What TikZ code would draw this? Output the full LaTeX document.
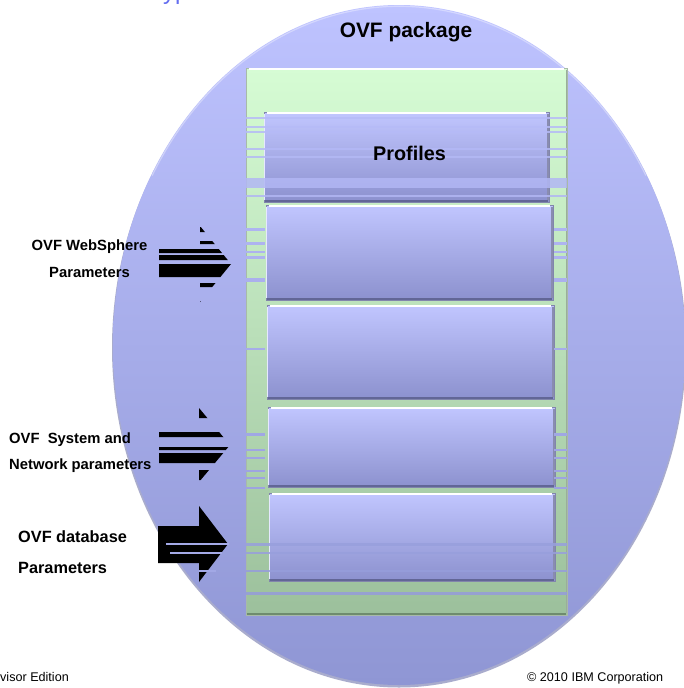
\documentclass[tikz,border=0pt]{standalone}
\usepackage{fontspec}
\setmainfont{Liberation Sans}
\usetikzlibrary{shapes.geometric}
\definecolor{ellTop}{RGB}{190,195,255}
\definecolor{ellBot}{RGB}{143,150,212}
\definecolor{ellEdge}{RGB}{100,105,165}
\definecolor{grnTop}{RGB}{214,252,212}
\definecolor{grnBot}{RGB}{156,192,156}
\definecolor{grnEdge}{RGB}{110,140,110}
\definecolor{boxTop}{RGB}{193,198,255}
\definecolor{boxBot}{RGB}{140,145,206}
\definecolor{boxEdge}{RGB}{98,102,150}
\definecolor{titleBlue}{RGB}{100,110,240}
\begin{document}
\begin{tikzpicture}[x=1pt,y=1pt,
  pkgshape/.style={ellipse, inner sep=0pt, minimum width=572pt, minimum height=680pt,
    top color=ellTop, bottom color=ellBot},
  grnshape/.style={rectangle, inner sep=0pt, top color=grnTop, bottom color=grnBot,
    draw=grnEdge!60, line width=0.6pt},
  boxshape/.style={rectangle, inner sep=0pt, top color=boxTop, bottom color=boxBot,
    draw=boxEdge!80, line width=0.6pt},
  biglabel/.style={font=\fontsize{20.9}{24}\selectfont\bfseries, inner sep=0pt},
  sidelabel/.style={font=\fontsize{14.8}{17}\selectfont\bfseries, inner sep=0pt},
  dblabel/.style={font=\fontsize{16.3}{19}\selectfont\bfseries, inner sep=0pt},
  footlabel/.style={font=\fontsize{12.6}{15}\selectfont, inner sep=0pt},
  blockarrow/.style={fill=black},
]
\useasboundingbox (0,0) rectangle (683,-688);
\fill[white] (0,0) rectangle (683,-688);

% partial title (descenders only)
\begin{scope}
  \clip (0,0) rectangle (683,-688);
  \node[anchor=base west, inner sep=0pt, text=titleBlue,
        font=\fontsize{24}{28}\selectfont] (title) at (163,1) {yp};
\end{scope}

% package ellipse with soft shadow
\fill[ellEdge, opacity=0.55] (399,-347.5) ellipse [x radius=287, y radius=340];
\node[pkgshape] (pkg) at (399,-345) {};
\draw[white, opacity=0.35, line width=1.2pt]
  ([shift={(0,-1.5)}]pkg.north) arc[start angle=90, end angle=150, x radius=285, y radius=338.5];
\draw[white, opacity=0.35, line width=1.2pt]
  ([shift={(0,-1.5)}]pkg.north) arc[start angle=90, end angle=30, x radius=285, y radius=338.5];
\node[biglabel, anchor=base] (pkgtitle) at (406,-37) {OVF package};

% green container
\node[grnshape, minimum width=321pt, minimum height=547pt] (grn) at (406.5,-341.5) {};
\draw[white, line width=2pt] ([shift={(3,-1.5)}]grn.north west) -- ([shift={(-3,-1.5)}]grn.north east);
\draw[grnEdge, line width=2pt] ([shift={(1,1.2)}]grn.south west) -- ([shift={(-1,1.2)}]grn.south east);
\draw[grnEdge!70, line width=1.4pt] ([shift={(-0.8,-2)}]grn.north east) -- ([shift={(-0.8,2)}]grn.south east);

% inner boxes
\node[boxshape, minimum width=285pt, minimum height=90pt] (b1) at (406.5,-157) {};
\node[boxshape, minimum width=287pt, minimum height=95pt] (b2) at (409.5,-252.5) {};
\node[boxshape, minimum width=287pt, minimum height=94pt] (b3) at (410.5,-352) {};
\node[boxshape, minimum width=287pt, minimum height=80pt] (b4) at (411.5,-447) {};
\node[boxshape, minimum width=286pt, minimum height=88pt] (b5) at (412,-537) {};
\foreach \b in {b1,b2,b3,b4,b5}{
  \draw[white, line width=2.2pt] ([shift={(3,-1.6)}]\b.north west) -- ([shift={(-3,-1.6)}]\b.north east);
  \draw[boxEdge, line width=2.6pt] ([shift={(1,1.4)}]\b.south west) -- ([shift={(-1,1.4)}]\b.south east);
  \draw[boxEdge!75, line width=1.8pt] ([shift={(-1,-2)}]\b.north east) -- ([shift={(-1,2)}]\b.south east);
  \draw[white!60!boxTop, line width=1pt] ([shift={(1,-2)}]\b.north west) -- ([shift={(1,2)}]\b.south west);
}

% glitch stripes across the whole container
\foreach \ya/\yb in {117/119, 126/128, 131/133, 148/150, 156/158, 178/188, 195/197,
                     543/546, 552/554, 570/572, 592/595}{
  \pgfmathtruncatemacro\pc{100*(1-(\ya-5)/680)}
  \fill[ellTop!\pc!ellBot, opacity=0.85] (246,-\ya) rectangle (567,-\yb);
}
% glitch stripes in the side margins only
\foreach \ya/\yb in {228/231, 242/245, 251/253, 256/259, 278/282, 348/350,
                     433/436, 449/451, 457/459, 470/472, 477/479, 487/489}{
  \pgfmathtruncatemacro\pc{100*(1-(\ya-5)/680)}
  \fill[ellTop!\pc!ellBot] (246,-\ya) rectangle (265,-\yb);
  \fill[ellTop!\pc!ellBot] (554,-\ya) rectangle (567,-\yb);
}

\node[biglabel, font=\fontsize{19.8}{23}\selectfont\bfseries, anchor=base] (proflabel) at (409.5,-160) {Profiles};

% arrow 1 (WebSphere), partly drawn
\begin{scope}
  \clip (150,-227) rectangle (240,-232) (150,-241) rectangle (240,-244)
        (150,-249) rectangle (240,-253) (150,-255) rectangle (240,-260)
        (150,-264) rectangle (240,-277) (150,-283) rectangle (240,-287)
        (150,-301) rectangle (240,-302.5);
  \fill[blockarrow] (159,-247) -- (200,-247) -- (200,-226) -- (231,-264)
                    -- (200,-302) -- (200,-281) -- (159,-281) -- cycle;
\end{scope}
% arrow 2 (System and Network), partly drawn
\begin{scope}
  \clip (150,-408) rectangle (240,-418) (150,-432) rectangle (240,-437)
        (150,-447) rectangle (240,-450) (150,-453) rectangle (240,-463)
        (150,-470) rectangle (240,-480);
  \fill[blockarrow] (159,-427) -- (199,-427) -- (199,-408) -- (230,-445)
                    -- (199,-482) -- (199,-463) -- (159,-463) -- cycle;
\end{scope}
% arrow 3 (database)
\fill[blockarrow] (158,-526) -- (199,-526) -- (199,-506) -- (228,-544)
                  -- (199,-582) -- (199,-563) -- (158,-563) -- cycle;
\fill[ellTop!45!ellBot] (166,-543) rectangle (229,-545);
\fill[ellTop!45!ellBot] (170,-552) rectangle (222,-554);
\fill[ellTop!40!ellBot] (199,-570) rectangle (216,-572);

% side labels
\node[sidelabel, anchor=base] (ws1) at (89.5,-250) {OVF WebSphere};
\node[sidelabel, anchor=base] (ws2) at (89.5,-277) {Parameters};
\node[sidelabel, anchor=base west] (sn1) at (9,-443) {OVF\ \ System and};
\node[sidelabel, anchor=base west] (sn2) at (9,-469) {Network parameters};
\node[dblabel, anchor=base west] (db1) at (18,-542) {OVF database};
\node[dblabel, anchor=base west] (db2) at (18,-573) {Parameters};

% footer
\node[footlabel, anchor=base west] (footl) at (0,-681) {visor Edition};
\node[footlabel, anchor=base west] (footr) at (527,-681) {© 2010 IBM Corporation};
\end{tikzpicture}
\end{document}
